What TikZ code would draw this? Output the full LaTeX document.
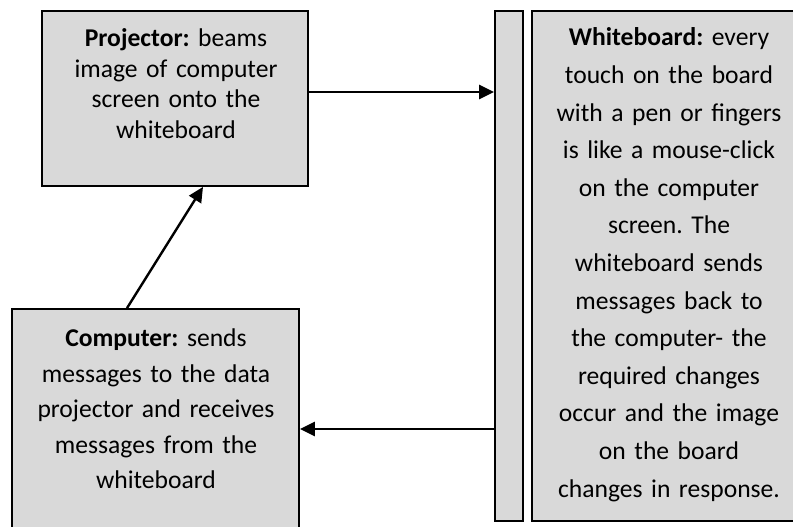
\documentclass[tikz,border=0pt]{standalone}
\usepackage{fontspec}
\setmainfont{Carlito}
\usetikzlibrary{arrows.meta}

\definecolor{boxgray}{HTML}{D9D9D9}
\tikzset{
  panel/.style={draw=black, line width=1.8pt, fill=boxgray, inner sep=0pt},
  caption/.style={inner sep=0pt, align=center, anchor=base},
  link/.style={line width=2.4pt, -{Triangle[length=15pt,width=14pt]}},
}

\begin{document}
\frenchspacing
\begin{tikzpicture}[x=1pt, y=-1pt]
  \useasboundingbox (0,0) rectangle (793,527);
  \clip (0,0) rectangle (793,527);

  % boxes
  \node[panel, minimum width=266pt, minimum height=175pt] (proj) at (175,98.5) {};
  \node[panel, minimum width=287pt, minimum height=231pt] (comp) at (155.5,424.5) {};
  \node[panel, minimum width=28pt, minimum height=510pt] (bar) at (509,266) {};
  \node[panel, minimum width=272pt, minimum height=510pt] (wb) at (668,266) {};

  % texts
  \node[caption, text width=250pt, font=\fontsize{25.6}{30.5}\selectfont\frenchspacing]
    (projtxt) at (176,46.7)
    {\textbf{Projector:} beams\\ image of computer\\ screen onto the\\ whiteboard};
  \node[caption, text width=270pt, font=\fontsize{25.6}{35.5}\selectfont\frenchspacing]
    (comptxt) at (156,346.7)
    {\textbf{Computer:} sends\\ messages to the data\\ projector and receives\\ messages from the\\ whiteboard};
  \node[caption, text width=260pt, font=\fontsize{25.6}{37.6}\selectfont\frenchspacing]
    (wbtxt) at (669,46)
    {\textbf{Whiteboard:} every\\ touch on the board\\ with a pen or fingers\\ is like a mouse-click\\ on the computer\\ screen. The\\ whiteboard sends\\ messages back to\\ the computer- the\\ required changes\\ occur and the image\\ on the board\\ changes in response.};

  % connectors
  \draw[link] ([yshift=6.5pt]proj.east) -- ([yshift=6.5pt]proj.east -| bar.west);
  \draw[link] ([yshift=-4.5pt]comp.east -| bar.west) -- ([yshift=-4.5pt]comp.east);
  \draw[link] ([xshift=-28.5pt]comp.north) -- ([xshift=28pt]proj.south);
\end{tikzpicture}
\end{document}
